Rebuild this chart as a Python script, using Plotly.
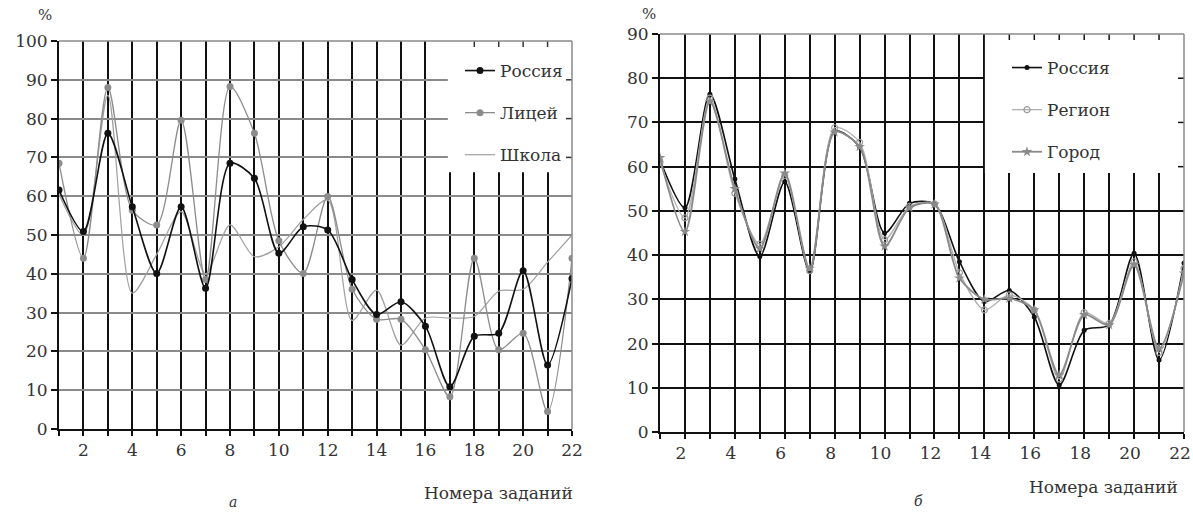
import plotly.graph_objects as go

# Task numbers (x axis)
tasks = list(range(1, 23))

# Panel "а": percentage of correct answers
russia_a = [61.6, 50.9, 76.2, 57.3, 40.1, 57.3, 36.3, 68.5, 64.6, 45.3, 52.1,
            51.3, 38.5, 29.5, 32.8, 26.5, 10.9, 23.9, 24.7, 40.8, 16.5, 38.8]
lyceum_a = [68.5, 44.0, 88.0, 56.4, 52.6, 79.6, 38.5, 88.3, 76.2, 48.5, 40.1,
            59.9, 36.0, 28.3, 28.3, 20.4, 8.3, 44.0, 20.4, 24.7, 4.5, 44.0]
school_a = [60.5, 50.0, 86.0, 35.0, 45.0, 56.0, 40.0, 52.6, 44.4, 47.0, 54.0,
            59.0, 28.0, 35.8, 21.6, 28.6, 28.6, 29.0, 35.5, 36.0, 43.0, 50.0]

# Panel "б"
russia_b = [61.5, 50.7, 76.4, 57.2, 39.7, 56.6, 36.3, 68.0, 64.5, 45.0, 51.7,
            51.5, 38.5, 29.5, 32.0, 26.0, 10.6, 23.0, 24.2, 40.4, 16.3, 38.2]
region_b = [61.0, 48.4, 75.5, 54.0, 42.5, 58.0, 36.5, 68.8, 65.5, 43.5, 51.0,
            51.6, 36.0, 27.6, 31.0, 27.6, 12.0, 27.0, 24.5, 38.5, 18.0, 37.0]
city_b = [62.0, 45.3, 74.7, 55.0, 41.5, 58.5, 37.0, 67.8, 64.5, 42.0, 50.7,
          51.5, 34.8, 30.0, 30.2, 27.6, 12.9, 26.5, 24.2, 37.8, 18.9, 35.9]

x_ticks = list(range(2, 23, 2))
y_ticks_a = list(range(0, 101, 10))
y_ticks_b = list(range(0, 91, 10))

SERIF = "DejaVu Serif, Liberation Serif, serif"
TXT = "#333333"

fig = go.Figure()

# ---- panel а ----
fig.add_trace(go.Scatter(
    x=tasks, y=school_a, name="Школа", mode="lines",
    line=dict(color="#a0a0a0", width=1.2, shape="spline", smoothing=0.8),
    xaxis="x", yaxis="y", legend="legend", legendrank=3, legendgroup="a3"))
fig.add_trace(go.Scatter(
    x=tasks, y=lyceum_a, name="Лицей", mode="lines+markers",
    line=dict(color="#8c8c8c", width=1.3, shape="spline", smoothing=0.8),
    marker=dict(color="#8c8c8c", size=7, symbol="circle"),
    xaxis="x", yaxis="y", legend="legend", legendrank=2, legendgroup="a2"))
fig.add_trace(go.Scatter(
    x=tasks, y=russia_a, name="Россия", mode="lines+markers",
    line=dict(color="#111111", width=1.6, shape="spline", smoothing=0.8),
    marker=dict(color="#111111", size=7, symbol="circle"),
    xaxis="x", yaxis="y", legend="legend", legendrank=1, legendgroup="a1"))

# ---- panel б ----
fig.add_trace(go.Scatter(
    x=tasks, y=russia_b, name="Россия", mode="lines+markers",
    line=dict(color="#111111", width=1.6, shape="spline", smoothing=0.8),
    marker=dict(color="#111111", size=5, symbol="circle"),
    xaxis="x2", yaxis="y2", legend="legend2", legendrank=1, legendgroup="b1"))
fig.add_trace(go.Scatter(
    x=tasks, y=region_b, name="Регион", mode="lines+markers",
    line=dict(color="#b0b0b0", width=1.3, shape="spline", smoothing=0.8),
    marker=dict(color="#9a9a9a", size=6, symbol="circle-open", line=dict(width=1.2)),
    xaxis="x2", yaxis="y2", legend="legend2", legendrank=2, legendgroup="b2"))
fig.add_trace(go.Scatter(
    x=tasks, y=city_b, name="Город", mode="lines+markers",
    line=dict(color="#8a8a8a", width=1.8, shape="spline", smoothing=0.8),
    marker=dict(color="#8a8a8a", size=8, symbol="star"),
    xaxis="x2", yaxis="y2", legend="legend2", legendrank=3, legendgroup="b3"))

tick_font = dict(family=SERIF, size=17, color=TXT)


def x_axis(domain, anchor, shift=0):
    return dict(
        domain=domain, anchor=anchor, range=[1, 22], automargin=False,
        ticklabeloverflow="allow", ticklabelshift=shift,
        tickvals=x_ticks, ticks="outside", ticklen=5, tickcolor="#111",
        tickwidth=1.5, showline=True, linecolor="#111", linewidth=1.8,
        showgrid=True, gridcolor="#111", gridwidth=1.5,
        minor=dict(dtick=1, tick0=1, showgrid=True, gridcolor="#111",
                   gridwidth=1.5, ticks="outside", ticklen=5, tickcolor="#111"),
        tickfont=tick_font, zeroline=False, fixedrange=True)


def y_axis(domain, anchor, rng, vals, grid):
    return dict(
        domain=domain, anchor=anchor, range=rng, tickvals=vals, automargin=False,
        ticklabeloverflow="allow",
        ticks="outside", ticklen=6, tickcolor="#111", tickwidth=1.5,
        showline=True, linecolor="#111", linewidth=1.8,
        showgrid=True, gridcolor=grid, gridwidth=1.5,
        tickfont=tick_font, zeroline=False, fixedrange=True)


dom_xa = [59 / 1193, 572 / 1193]
dom_ya = [1 - 429 / 515, 1 - 41 / 515]
dom_xb = [660 / 1193, 1184 / 1193]
dom_yb = [1 - 432 / 515, 1 - 34 / 515]

legend_font = dict(family=SERIF, size=17, color=TXT)
fig.update_layout(
    width=1193, height=515,
    margin=dict(l=0, r=0, t=0, b=0, autoexpand=False),
    paper_bgcolor="white", plot_bgcolor="white",
    xaxis=x_axis(dom_xa, "y"),
    yaxis=y_axis(dom_ya, "x", [0, 100], y_ticks_a, "#8a8a8a"),
    xaxis2=x_axis(dom_xb, "y2", shift=-4),
    yaxis2=y_axis(dom_yb, "x2", [0, 90], y_ticks_b, "#111"),
    legend=dict(x=460 / 1193, y=1 - 53 / 515, xanchor="left", yanchor="top",
                bgcolor="rgba(0,0,0,0)", font=legend_font,
                tracegroupgap=17, itemwidth=30),
    legend2=dict(x=1007 / 1193, y=1 - 50 / 515, xanchor="left", yanchor="top",
                 bgcolor="rgba(0,0,0,0)", font=legend_font,
                 tracegroupgap=17, itemwidth=30),
    showlegend=True,
)


def legend_panel(xr, yr, x_from, y_from, px_w, px_h, xt, yt, tick_col):
    """White panel behind a legend, plus the inner frame ticks it leaves visible."""
    fig.add_shape(type="rect", xref=f"{xr} domain", yref=f"{yr} domain",
                  x0=x_from, x1=1, y0=y_from, y1=1, fillcolor="white",
                  line=dict(width=0), layer="above")
    # short ticks hanging from the top edge
    for v in xt:
        fig.add_shape(type="line", xref=xr, yref=f"{yr} domain",
                      x0=v, x1=v, y0=1, y1=1 - 6 / px_h,
                      line=dict(color=tick_col, width=1.5), layer="above")
    # short ticks pointing in from the right edge
    for v in yt:
        fig.add_shape(type="line", xref=f"{xr} domain", yref=yr,
                      x0=1, x1=1 - 6 / px_w, y0=v, y1=v,
                      line=dict(color=tick_col, width=1.5), layer="above")
    # grey top and right frame lines
    fig.add_shape(type="line", xref=f"{xr} domain", yref=f"{yr} domain",
                  x0=0, x1=1, y0=1, y1=1, line=dict(color="#8a8a8a", width=1.5),
                  layer="above")
    fig.add_shape(type="line", xref=f"{xr} domain", yref=f"{yr} domain",
                  x0=1, x1=1, y0=0, y1=1, line=dict(color="#8a8a8a", width=1.5),
                  layer="above")


legend_panel("x", "y", 0.758, 0.662, 513, 388,
             [18, 19, 20, 21], [70, 80, 90], "#333")
legend_panel("x2", "y2", 0.62, 0.651, 524, 398,
             [15, 16, 17, 18, 19, 20, 21], [60, 70, 80], "#111")

ann_font = dict(family=SERIF, size=15, color=TXT)
fig.add_annotation(text="%", x=45 / 1193, y=1 - 15 / 515, xref="paper", yref="paper",
                   showarrow=False, font=ann_font, xanchor="center", yanchor="middle")
fig.add_annotation(text="%", x=649 / 1193, y=1 - 14 / 515, xref="paper", yref="paper",
                   showarrow=False, font=ann_font, xanchor="center", yanchor="middle")
fig.add_annotation(text="Номера заданий", x=575 / 1193, y=1 - 493 / 515,
                   xref="paper", yref="paper", showarrow=False,
                   font=dict(family=SERIF, size=17, color=TXT),
                   xanchor="right", yanchor="middle")
fig.add_annotation(text="Номера заданий", x=1180 / 1193, y=1 - 487 / 515,
                   xref="paper", yref="paper", showarrow=False,
                   font=dict(family=SERIF, size=17, color=TXT),
                   xanchor="right", yanchor="middle")
fig.add_annotation(text="<i>а</i>", x=233 / 1193, y=1 - 502 / 515, xref="paper",
                   yref="paper", showarrow=False,
                   font=dict(family=SERIF, size=14, color=TXT),
                   xanchor="center", yanchor="middle")
fig.add_annotation(text="<i>б</i>", x=918 / 1193, y=1 - 501 / 515, xref="paper",
                   yref="paper", showarrow=False,
                   font=dict(family=SERIF, size=14, color=TXT),
                   xanchor="center", yanchor="middle")

fig.write_html("out.html")
